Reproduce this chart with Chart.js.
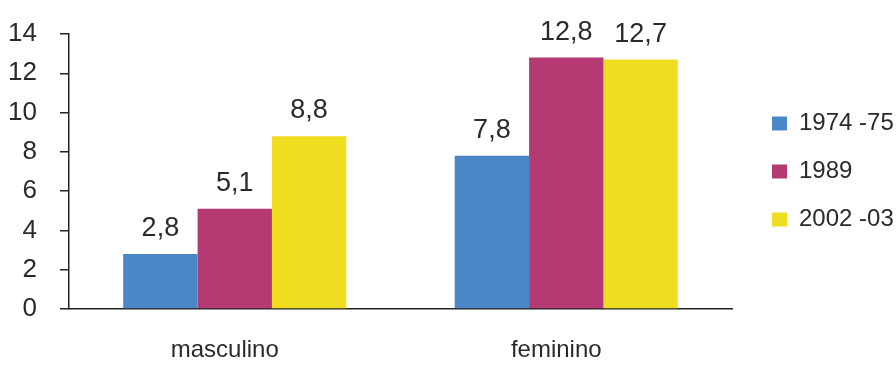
<!DOCTYPE html>
<html>
<head>
<meta charset="utf-8">
<script src="https://cdn.jsdelivr.net/npm/chart.js@4/dist/chart.umd.min.js"></script>
<style>
html,body{margin:0;padding:0;background:#fff;}
#wrap{width:896px;height:365px;position:relative;}
</style>
</head>
<body>
<div id="wrap"><canvas id="c" width="896" height="365"></canvas></div>
<script>
const categories = ['masculino', 'feminino'];
const seriesLabels = ['1974 -75', '1989', '2002 -03'];
const values1974 = [2.8, 7.8];
const values1989 = [5.1, 12.8];
const values2002 = [8.8, 12.7];
const yTicks = [0, 2, 4, 6, 8, 10, 12, 14];
const colors = ['#4a87c6', '#b53a73', '#efdd21'];

const REG = "'Liberation Sans', Arial, sans-serif";
const TXT = '#2a2a2a';

const valueLabels = {
  id: 'valueLabels',
  afterDatasetsDraw(chart) {
    const ctx = chart.ctx;
    ctx.save();
    ctx.font = '27px ' + REG;
    ctx.fillStyle = TXT;
    ctx.textAlign = 'center';
    ctx.textBaseline = 'alphabetic';
    chart.data.datasets.forEach((ds, i) => {
      const meta = chart.getDatasetMeta(i);
      meta.data.forEach((el, j) => {
        const v = ds.data[j];
        ctx.fillText(v.toFixed(1).replace('.', ','), el.x, el.y - 18);
      });
    });
    ctx.restore();
  }
};

new Chart(document.getElementById('c'), {
  type: 'bar',
  data: {
    labels: categories,
    datasets: [
      { label: seriesLabels[0], data: values1974, backgroundColor: colors[0] },
      { label: seriesLabels[1], data: values1989, backgroundColor: colors[1] },
      { label: seriesLabels[2], data: values2002, backgroundColor: colors[2] }
    ]
  },
  options: {
    responsive: false,
    animation: false,
    devicePixelRatio: 1,
    layout: { padding: { top: 34, bottom: 0, left: 0, right: 0 } },
    datasets: { bar: { categoryPercentage: 0.673, barPercentage: 1.0, borderWidth: 0 } },
    plugins: {
      tooltip: { enabled: false },
      legend: {
        position: 'right',
        fullSize: false,
        align: 'center',
        maxWidth: 148,
        labels: {
          boxWidth: 15,
          boxHeight: 14,
          padding: 24,
          color: TXT,
          font: { family: REG, size: 24 }
        }
      }
    },
    scales: {
      x: {
        grid: { display: false, drawTicks: false },
        border: { display: true, color: '#222', width: 1.5 },
        ticks: { color: TXT, font: { family: REG, size: 24 }, padding: 27, labelOffset: -10 },
        afterFit(s) { s.height = 56; }
      },
      y: {
        min: 0,
        max: 14,
        afterBuildTicks(s) { s.ticks = yTicks.map(v => ({ value: v })); },
        grid: { display: true, drawOnChartArea: false, drawTicks: true, tickLength: 9, color: '#222', lineWidth: 1.5 },
        border: { display: true, color: '#222', width: 1.5 },
        ticks: { color: TXT, font: { family: REG, size: 26 }, padding: 23 },
        afterFit(s) { s.width = 69; s.paddingTop = 0; s.paddingBottom = 0; }
      },
      yR: {
        position: 'right',
        display: true,
        grid: { display: false, drawTicks: false },
        border: { display: false },
        ticks: { display: false },
        afterFit(s) { s.width = 16; }
      }
    }
  },
  plugins: [valueLabels]
});
</script>
</body>
</html>
